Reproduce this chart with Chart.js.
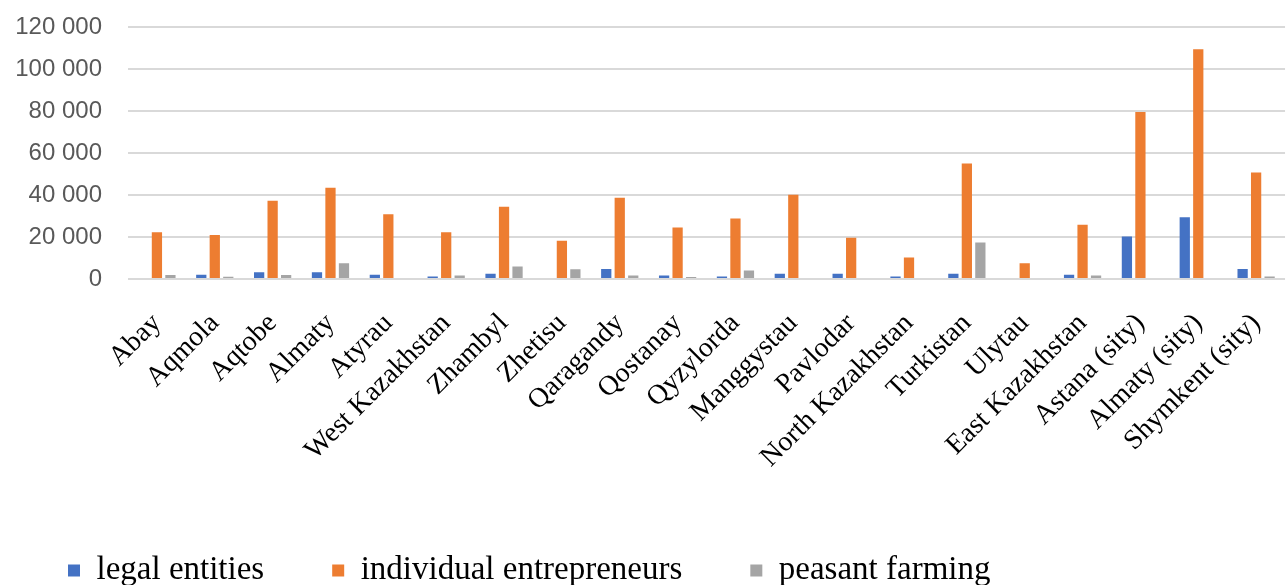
<!DOCTYPE html>
<html>
<head>
<meta charset="utf-8">
<script src="https://cdn.jsdelivr.net/npm/chart.js@4/dist/chart.umd.min.js"></script>
<style>
  html, body { margin: 0; padding: 0; background: #fff; overflow: hidden; }
  #wrap { width: 1287px; height: 585px; overflow: hidden; position: relative; }
  canvas { display: block; }
</style>
</head>
<body>
<div id="wrap"><canvas id="c" width="1300" height="597"></canvas></div>
<script>
const categories = ['Abay','Aqmola','Aqtobe','Almaty','Atyrau','West Kazakhstan','Zhambyl','Zhetisu','Qaragandy','Qostanay','Qyzylorda','Manggystau','Pavlodar','North Kazakhstan','Turkistan','Ulytau','East Kazakhstan','Astana (sity)','Almaty (sity)','Shymkent (sity)'];
const legalEntities = [0, 2000, 3200, 3200, 2000, 1200, 2500, 0, 4800, 1700, 1200, 2500, 2500, 1200, 2500, 0, 2000, 20200, 29400, 4800];
const individualEntrepreneurs = [22300, 21000, 37300, 43500, 30900, 22300, 34400, 18200, 38700, 24500, 28800, 40100, 19600, 10300, 55000, 7500, 25800, 79600, 109500, 50700];
const peasantFarming = [1900, 1100, 1900, 7500, 0, 1700, 6000, 4600, 1700, 1000, 4000, 0, 0, 0, 17400, 0, 1700, 0, 0, 1200];
const seriesNames = ['legal entities', 'individual entrepreneurs', 'peasant farming'];
const yTickLabels = ['0', '20 000', '40 000', '60 000', '80 000', '100 000', '120 000'];

const colors = ['#4472C4', '#ED7D31', '#A5A5A5'];

new Chart(document.getElementById('c'), {
  type: 'bar',
  data: {
    labels: categories,
    datasets: [
      { label: seriesNames[0], data: legalEntities, backgroundColor: colors[0] },
      { label: seriesNames[1], data: individualEntrepreneurs, backgroundColor: colors[1] },
      { label: seriesNames[2], data: peasantFarming, backgroundColor: colors[2] }
    ]
  },
  options: {
    responsive: false,
    animation: false,
    devicePixelRatio: 1,
    datasets: { bar: { categoryPercentage: 0.7, barPercentage: 0.76 } },
    layout: { padding: { top: 0, right: 5, left: 0, bottom: 0 } },
    plugins: {
      tooltip: { enabled: false },
      legend: {
        position: 'bottom',
        align: 'start',
        labels: {
          boxWidth: 12,
          boxHeight: 12,
          padding: 68,
          color: '#000',
          font: { family: '"Liberation Serif", "Times New Roman", serif', size: 33 }
        }
      }
    },
    scales: {
      x: {
        grid: { display: false },
        border: { display: false },
        ticks: {
          autoSkip: false,
          minRotation: 45,
          maxRotation: 45,
          padding: 20,
          color: '#000',
          font: { family: '"Liberation Serif", "Times New Roman", serif', size: 28 }
        },
        afterFit: (scale) => { scale.height = 207; }
      },
      y: {
        min: 0,
        max: 120000,
        grid: { color: '#d9d9d9', lineWidth: 2, drawTicks: false },
        border: { display: false },
        ticks: {
          stepSize: 20000,
          padding: 26,
          color: '#595959',
          font: { family: '"Liberation Sans", Arial, sans-serif', size: 24, lineHeight: 0.1 },
          callback: (value) => yTickLabels[Math.round(value / 20000)]
        },
        afterFit: (scale) => { scale.width = 128; }
      }
    }
  }
});
</script>
</body>
</html>
